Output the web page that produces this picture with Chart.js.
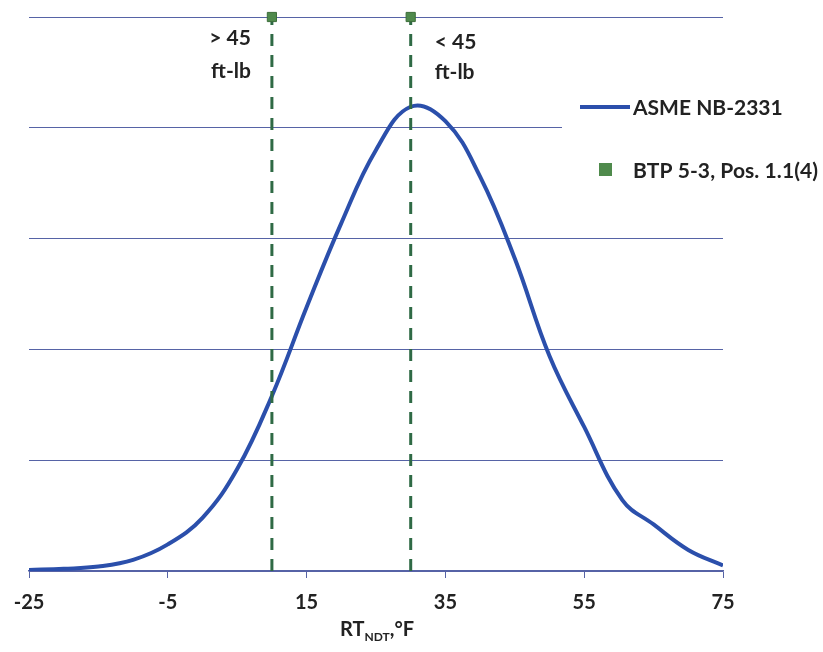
<!DOCTYPE html>
<html>
<head>
<meta charset="utf-8">
<script src="https://cdn.jsdelivr.net/npm/chart.js@4.4.1/dist/chart.umd.min.js"></script>
<style>
  html, body { margin: 0; padding: 0; background: #fff; }
  #wrap { width: 823px; height: 652px; }
</style>
</head>
<body>
<div id="wrap"><canvas id="chart" width="823" height="652"></canvas></div>
<script>
// valeurs
const curveX = [-25, -20, -15, -10, -5, 0, 5, 10, 15, 20, 25, 30, 35, 40, 45, 50, 55, 60.5, 65, 70, 75];
const curveY = [0.01, 0.02, 0.04, 0.1, 0.24, 0.48, 0.92, 1.58, 2.38, 3.14, 3.8, 4.19, 4.06, 3.56, 2.82, 1.94, 1.3, 0.64, 0.42, 0.19, 0.05];
const btpX = [10, 30];
const btpY = [5, 5];
const btpText = [['> 45', 'ft-lb'], ['< 45', 'ft-lb']];
const seriesNames = ['ASME NB-2331', 'BTP 5-3, Pos. 1.1(4)'];
const xTitle = ['RT', 'NDT', ',°F'];

const blue = '#2b4fab';
const green = '#4f8a4c';
const darkGreen = '#2f6a45';
const gridColor = '#5663a6';
const font = 'Lato, "Open Sans", sans-serif';

const curve = curveX.map((x, i) => ({ x: x, y: curveY[i] }));
const points = btpX.map((x, i) => ({ x: x, y: btpY[i] }));

// lignes verticales pointillées sous chaque point BTP
const dropLines = btpX.map((x, i) => ({
  type: 'line',
  label: 'drop' + i,
  data: [{ x: x, y: 0 }, { x: x, y: btpY[i] }],
  borderColor: darkGreen,
  borderWidth: 3,
  borderDash: [12, 9],
  pointRadius: 0,
  clip: false
}));

// texte étiré à une largeur donnée (police plus étroite dans l'original)
function fitText(ctx, text, x, y, width) {
  ctx.letterSpacing = '0px';
  const w = ctx.measureText(text).width;
  const sp = Math.max(0, (width - w) / (text.length - 1));
  ctx.letterSpacing = sp.toFixed(2) + 'px';
  ctx.fillText(text, x, y);
  ctx.letterSpacing = '0px';
}

const extras = {
  id: 'extras',
  afterDatasetsDraw(chart) {
    const ctx = chart.ctx;
    const xs = chart.scales.x;
    ctx.save();

    // textes à côté des lignes
    ctx.fillStyle = '#222';
    ctx.font = 'bold 21px ' + font;
    ctx.textBaseline = 'middle';
    btpX.forEach((x, i) => {
      const px = xs.getPixelForValue(x);
      if (i === 0) {
        ctx.textAlign = 'right';
        ctx.fillText(btpText[i][0], px - 21, 38);
        ctx.fillText(btpText[i][1], px - 21, 71);
      } else {
        ctx.textAlign = 'left';
        ctx.fillText(btpText[i][0], px + 24, 42);
        ctx.fillText(btpText[i][1], px + 24, 72);
      }
    });

    // légende
    ctx.fillStyle = '#fff';
    ctx.fillRect(562, 80, 261, 125);
    ctx.strokeStyle = blue;
    ctx.lineWidth = 4;
    ctx.beginPath();
    ctx.moveTo(580, 107);
    ctx.lineTo(630, 107);
    ctx.stroke();
    ctx.fillStyle = green;
    ctx.fillRect(599, 163, 13, 13);
    ctx.fillStyle = '#222';
    ctx.font = 'bold 21px ' + font;
    ctx.textAlign = 'left';
    fitText(ctx, seriesNames[0], 633, 108, 145);
    fitText(ctx, seriesNames[1], 633, 171, 185);

    // titre de l'axe X avec indice
    const big = 'bold 20px ' + font;
    const small = 'bold 12px ' + font;
    ctx.font = big;
    const w1 = ctx.measureText(xTitle[0]).width;
    const w3 = ctx.measureText(xTitle[2]).width;
    ctx.font = small;
    const w2 = ctx.measureText(xTitle[1]).width;
    let x0 = 377 - (w1 + w2 + w3) / 2;
    const y0 = 636;
    ctx.textAlign = 'left';
    ctx.textBaseline = 'alphabetic';
    ctx.font = big;
    ctx.fillText(xTitle[0], x0, y0);
    ctx.font = small;
    ctx.fillText(xTitle[1], x0 + w1, y0 + 5);
    ctx.font = big;
    ctx.fillText(xTitle[2], x0 + w1 + w2, y0);
    ctx.restore();
  }
};

new Chart(document.getElementById('chart'), {
  type: 'line',
  data: {
    datasets: [{
      label: seriesNames[0],
      data: curve,
      borderColor: blue,
      borderWidth: 4,
      pointRadius: 0,
      tension: 0.4,
      order: 1
    }, {
      type: 'scatter',
      label: seriesNames[1],
      data: points,
      backgroundColor: green,
      borderColor: '#3d6e3b',
      borderWidth: 1,
      pointStyle: 'rect',
      pointRadius: 6.5,
      clip: false,
      order: 0
    }, ...dropLines]
  },
  options: {
    responsive: false,
    animation: false,
    layout: { padding: { top: 17, right: 100, left: 0, bottom: 0 } },
    plugins: {
      legend: { display: false },
      tooltip: { enabled: false }
    },
    scales: {
      x: {
        type: 'linear',
        min: -25,
        max: 75,
        ticks: {
          stepSize: 20,
          color: '#222',
          font: { family: font, size: 20, weight: 'bold' },
          padding: 13
        },
        grid: {
          display: true,
          drawOnChartArea: false,
          drawTicks: true,
          tickLength: 7,
          color: gridColor
        },
        border: { display: true, color: gridColor, width: 1.5 },
        afterFit(scale) { scale.height = 81; }
      },
      y: {
        min: 0,
        max: 5,
        ticks: { display: false, stepSize: 1 },
        grid: { color: gridColor, lineWidth: 1, drawTicks: false },
        border: { display: false },
        afterFit(scale) { scale.width = 29; }
      }
    }
  },
  plugins: [extras]
});
</script>
</body>
</html>
